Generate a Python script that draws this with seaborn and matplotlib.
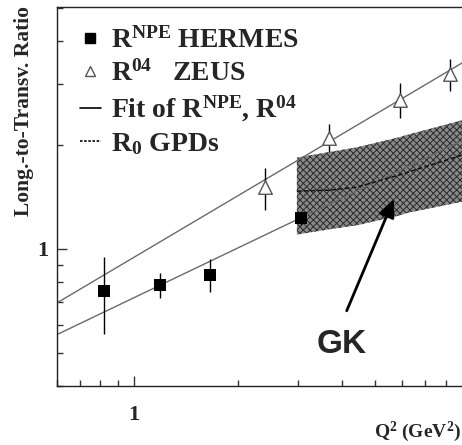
import numpy as np
import pandas as pd
import matplotlib
matplotlib.use("Agg")
import matplotlib.pyplot as plt
from matplotlib.lines import Line2D
from matplotlib.ticker import FixedLocator, FixedFormatter, LogLocator, NullFormatter
import seaborn as sns

# ---- data ----
hermes_q2 = [0.82, 1.19, 1.66, 3.05]
hermes_r = [0.755, 0.787, 0.841, 1.23]
hermes_lo = [0.567, 0.721, 0.750, 1.17]
hermes_hi = [0.948, 0.852, 0.935, 1.27]

zeus_q2 = [2.40, 3.67, 5.90, 8.24]
zeus_r = [1.51, 2.10, 2.70, 3.22]
zeus_lo = [1.30, 1.91, 2.40, 2.87]
zeus_hi = [1.72, 2.30, 3.03, 3.55]

fit_q2 = [0.6, 8.93]
fit_hermes = [0.564, 2.06]
fit_zeus = [0.697, 3.46]

band_q2 = [2.97, 3.70, 4.43, 5.90, 6.18, 8.93]
band_top = [1.84, 1.91, 1.97, 2.11, 2.14, 2.36]
band_bot = [1.10, 1.14, 1.17, 1.25, 1.27, 1.37]
gpd_q2 = [2.97, 3.70, 4.43, 5.90, 8.93]
gpd_r = [1.47, 1.48, 1.51, 1.64, 1.87]

sns.set_theme(style="ticks")
plt.rcParams["font.family"] = ["Liberation Serif", "DejaVu Serif"]
plt.rcParams["font.weight"] = "bold"
plt.rcParams["mathtext.fontset"] = "custom"
plt.rcParams["mathtext.rm"] = "Liberation Serif:bold"
plt.rcParams["mathtext.it"] = "Liberation Serif:bold"
plt.rcParams["mathtext.bf"] = "Liberation Serif:bold"
plt.rcParams["hatch.linewidth"] = 0.7
plt.rcParams["hatch.color"] = "#2a2a2a"

fig = plt.figure(figsize=(4.62, 4.45), dpi=100)
ax = fig.add_axes([57 / 462, 59 / 445, 405 / 462, 379 / 445])
ax.set_xscale("log")
ax.set_yscale("log")

# band
ax.fill_between(band_q2, band_bot, band_top, facecolor="#8a8a8a",
                edgecolor="#2a2a2a", hatch="xxxxx", linewidth=0, zorder=1)

# fit lines
fit_df = pd.DataFrame({"q2": fit_q2 * 2,
                       "r": fit_hermes + fit_zeus,
                       "set": ["h", "h", "z", "z"]})
sns.lineplot(data=fit_df, x="q2", y="r", units="set", estimator=None,
             color="#6a6a6a", linewidth=1.0, ax=ax, zorder=2)

# GPD dashed
sns.lineplot(x=gpd_q2, y=gpd_r, color="#111111", linewidth=1.1,
             linestyle=(0, (3, 1.5)), ax=ax, zorder=3)

# error bars
ax.vlines(hermes_q2, hermes_lo, hermes_hi, color="black", linewidth=1.0, zorder=4)
ax.vlines(zeus_q2, zeus_lo, zeus_hi, color="black", linewidth=1.0, zorder=4)

# points
sns.scatterplot(x=hermes_q2, y=hermes_r, marker="s", s=80, color="black",
                edgecolor="black", linewidth=0, ax=ax, zorder=5)
sns.scatterplot(x=zeus_q2, y=zeus_r, marker="^", s=95, facecolor="white",
                edgecolor="#555555", linewidth=1.0, ax=ax, zorder=5)

ax.set_xlim(0.6, 8.93)
ax.set_ylim(0.4, 5.03)

# ticks
ax.xaxis.set_major_locator(FixedLocator([1]))
ax.xaxis.set_major_formatter(FixedFormatter(["1"]))
ax.yaxis.set_major_locator(FixedLocator([1]))
ax.yaxis.set_major_formatter(FixedFormatter(["1"]))
ax.xaxis.set_minor_locator(LogLocator(base=10, subs=np.arange(2, 10), numticks=20))
ax.yaxis.set_minor_locator(LogLocator(base=10, subs=np.arange(2, 10), numticks=20))
ax.xaxis.set_minor_formatter(NullFormatter())
ax.yaxis.set_minor_formatter(NullFormatter())
ax.tick_params(which="both", direction="in", color="#333333", width=1.0,
               top=False, right=False)
ax.tick_params(which="major", length=7)
ax.tick_params(which="minor", length=4)
ax.tick_params(axis="x", which="major", pad=14, labelsize=16)
ax.tick_params(axis="y", which="major", pad=6, labelsize=16)
for lab in ax.get_xticklabels() + ax.get_yticklabels():
    lab.set_fontweight("bold")

for s in ["left", "bottom", "top"]:
    ax.spines[s].set_color("#222222")
    ax.spines[s].set_linewidth(1.0)
ax.spines["right"].set_visible(False)
ax.set_xlabel("")
ax.set_ylabel("")

# legend
handles = [
    Line2D([], [], marker="s", color="black", linestyle="none", markersize=7),
    Line2D([], [], marker="^", markerfacecolor="white", markeredgecolor="#555555",
           linestyle="none", markersize=7),
    Line2D([], [], color="black", linewidth=1.2),
    Line2D([], [], color="black", linewidth=1.2, linestyle=(0, (1.5, 1))),
]
labels = [r"$\mathrm{R^{NPE}}$ HERMES",
          r"$\mathrm{R^{04}}$   ZEUS",
          r"Fit of $\mathrm{R^{NPE}}$, $\mathrm{R^{04}}$",
          r"$\mathrm{R_{0}}$ GPDs"]
leg = ax.legend(handles, labels, loc="upper left", bbox_to_anchor=(0.057, 0.947),
                frameon=False, prop={"family": "Liberation Serif", "weight": "bold", "size": 20},
                handlelength=0.74, handletextpad=0.37, labelspacing=0.25,
                borderaxespad=0, borderpad=0)

# arrow and GK
ax.annotate("", xy=(5.67, 1.396), xytext=(4.14, 0.661),
            arrowprops=dict(arrowstyle="-|>,head_length=0.9,head_width=0.4",
                            color="black", linewidth=2.0, shrinkA=0, shrinkB=0))
ax.text(4.01, 0.527, "GK", family="Liberation Sans", fontweight="bold",
        fontsize=24, ha="center", va="center")

# axis titles
fig.text(24 / 462, 1 - 6 / 445, "Long.-to-Transv. Ratio", rotation=90,
         ha="center", va="top", fontsize=15.5, fontweight="bold")
fig.text(461 / 462, 1 - 432 / 445, r"$\mathrm{Q^{2}}$ (GeV$^{2}$)",
         ha="right", va="center", fontsize=14, fontweight="bold")

fig.savefig("out.png", dpi=100)
